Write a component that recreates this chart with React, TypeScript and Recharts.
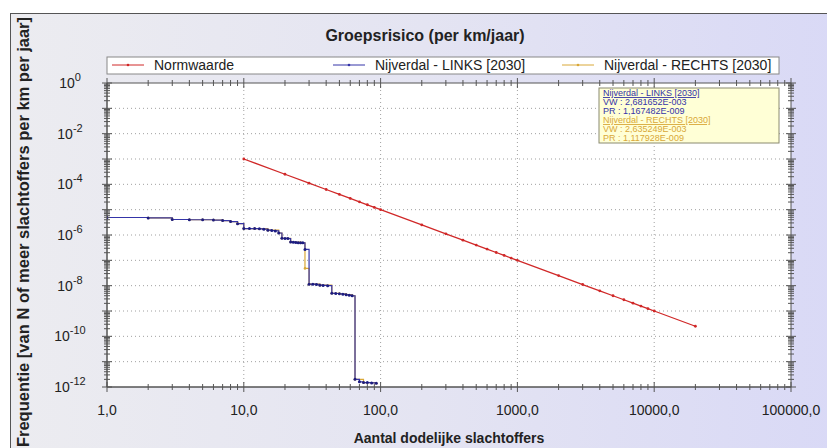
import { LineChart, Line, XAxis, YAxis, ReferenceArea, ReferenceLine } from "recharts";

const W = 827;
const H = 448;
const PLOT_TOP = 83;
const PLOT_RIGHT = 791;
const FONT = "'Liberation Sans', Arial, sans-serif";

const RED = "#d02828";
const BLUE = "#3434a8";
const YELLOW = "#d9a838";

// Normwaarde (aantal slachtoffers, frequentie)
const NORM_N = [10, 20, 30, 40, 50, 60, 70, 80, 90, 100, 200, 300, 400, 500, 600, 700, 800, 900, 1000, 2000, 3000, 4000, 5000, 6000, 7000, 8000, 9000, 10000, 20000];
const NORM_F = [1e-3, 2.5e-4, 1.11e-4, 6.25e-5, 4e-5, 2.78e-5, 2.04e-5, 1.56e-5, 1.23e-5, 1e-5, 2.5e-6, 1.11e-6, 6.25e-7, 4e-7, 2.78e-7, 2.04e-7, 1.56e-7, 1.23e-7, 1e-7, 2.5e-8, 1.11e-8, 6.25e-9, 4e-9, 2.78e-9, 2.04e-9, 1.56e-9, 1.23e-9, 1e-9, 2.5e-10];

// Nijverdal - LINKS [2030]
const LINKS_N = [1, 2, 3, 4, 5, 6, 7, 8, 9, 10, 11, 12, 13, 14, 15, 16, 17, 18, 19, 20, 21, 22, 23, 24, 25, 26, 27, 28, 30, 32, 34, 36, 38, 41, 44, 47, 50, 53, 56, 59, 62, 65, 70, 75, 80, 86, 93];
const LINKS_F = [4.9e-6, 4.7e-6, 4.1e-6, 4.0e-6, 4.0e-6, 3.9e-6, 3.7e-6, 3.4e-6, 2.8e-6, 1.8e-6, 1.8e-6, 1.8e-6, 1.75e-6, 1.7e-6, 1.55e-6, 1.5e-6, 1.45e-6, 1.2e-6, 7.4e-7, 7.3e-7, 7.2e-7, 5.3e-7, 5.2e-7, 5.1e-7, 5.0e-7, 4.9e-7, 4.9e-7, 2.7e-7, 1.15e-8, 1.15e-8, 1.12e-8, 1.05e-8, 1.02e-8, 1.0e-8, 5.0e-9, 4.9e-9, 4.8e-9, 4.6e-9, 4.4e-9, 4.2e-9, 4.0e-9, 2.0e-12, 1.6e-12, 1.5e-12, 1.5e-12, 1.45e-12, 1.4e-12];

// Nijverdal - RECHTS [2030]
const RECHTS_N = [1, 2, 3, 4, 5, 6, 7, 8, 9, 10, 12, 15, 18, 19, 22, 26, 28, 30, 36, 44, 50, 56, 62, 65, 75, 93];
const RECHTS_F = [4.9e-6, 4.7e-6, 4.1e-6, 4.0e-6, 4.0e-6, 3.9e-6, 3.7e-6, 3.4e-6, 2.8e-6, 1.8e-6, 1.8e-6, 1.55e-6, 1.2e-6, 7.4e-7, 5.3e-7, 4.9e-7, 4.8e-8, 1.15e-8, 1.05e-8, 5.0e-9, 4.8e-9, 4.4e-9, 4.0e-9, 2.0e-12, 1.5e-12, 1.4e-12];

const X_MAJOR = [1, 10, 100, 1000, 10000, 100000];
const X_LABELS = ["1,0", "10,0", "100,0", "1000,0", "10000,0", "100000,0"];
const Y_EXPONENTS = [0, -1, -2, -3, -4, -5, -6, -7, -8, -9, -10, -11, -12];

const normData = NORM_N.map((n, i) => ({ n, f: NORM_F[i] }));
const linksData = LINKS_N.map((n, i) => ({ n, f: LINKS_F[i] }));
const rechtsData = RECHTS_N.map((n, i) => ({ n, f: RECHTS_F[i] }));

const xTicks: number[] = [];
X_MAJOR.forEach((m, i) => {
  xTicks.push(m);
  if (i < X_MAJOR.length - 1) for (let k = 2; k < 10; k++) xTicks.push(m * k);
});
const yTicks: number[] = [];
Y_EXPONENTS.forEach((e, i) => {
  yTicks.push(Math.pow(10, e));
  if (i < Y_EXPONENTS.length - 1) for (let k = 2; k < 10; k++) yTicks.push(k * Math.pow(10, e - 1));
});

const isMajor = (v: number) => Math.abs(Math.log10(v) - Math.round(Math.log10(v))) < 1e-9;

function XTick(props: any) {
  const { x, y, payload } = props;
  const v = payload.value;
  const major = isMajor(v);
  const len = major ? 5 : 3;
  const idx = X_MAJOR.findIndex((m) => Math.abs(m - v) < 1e-9);
  return (
    <g>
      <line x1={x} x2={x} y1={y - len} y2={y + len} stroke="#555" />
      <line x1={x} x2={x} y1={PLOT_TOP - len} y2={PLOT_TOP + len} stroke="#555" />
      {idx >= 0 && (
        <text x={x} y={y + 28} textAnchor="middle" fontFamily={FONT} fontSize={14} fill="#222">
          {X_LABELS[idx]}
        </text>
      )}
    </g>
  );
}

function YTick(props: any) {
  const { x, y, payload } = props;
  const v = payload.value;
  const major = isMajor(v);
  const len = major ? 5 : 3;
  const e = Math.round(Math.log10(v));
  const labelled = major && e % 2 === 0;
  return (
    <g>
      <line x1={x - len} x2={x + len} y1={y} y2={y} stroke="#555" />
      <line x1={PLOT_RIGHT - len} x2={PLOT_RIGHT + len} y1={y} y2={y} stroke="#555" />
      {labelled && (
        <text x={x - 37} y={y + 5} textAnchor="middle" fontFamily={FONT} fontSize={14} fill="#222">
          10
          <tspan dy={-7} fontSize={11}>{String(e)}</tspan>
        </text>
      )}
    </g>
  );
}

function LegendItem({ x, color, label }: { x: number; color: string; label: string }) {
  return (
    <g>
      <line x1={x} x2={x + 32} y1={65} y2={65} stroke={color} strokeWidth={1} />
      <circle cx={x + 16} cy={65} r={1.3} fill={color} />
      <text x={x + 42} y={70} fontFamily={FONT} fontSize={14} fill="#222">{label}</text>
    </g>
  );
}

export default function App() {
  return (
    <div style={{ position: "absolute", left: 0, top: 0, width: W, height: H, overflow: "hidden", background: "#fff" }}>
      <div
        style={{
          position: "absolute",
          left: 10,
          top: 13,
          width: W,
          height: H,
          borderLeft: "1px solid #555",
          borderTop: "1px solid #555",
          background: "linear-gradient(to right, #ececf0 0%, #e4e4f2 50%, #d9d9f6 100%)",
        }}
      />
      <div style={{ position: "absolute", left: 0, top: 0 }}>
        <LineChart width={W} height={H} margin={{ top: PLOT_TOP, right: W - PLOT_RIGHT, bottom: 0, left: 0 }}>
          <XAxis
            dataKey="n"
            type="number"
            scale="log"
            domain={[1, 100000]}
            allowDataOverflow
            ticks={xTicks}
            interval={0}
            tickSize={0}
            tickMargin={0}
            tickLine={false}
            axisLine={{ stroke: "#555" }}
            tick={<XTick />}
            height={61}
          />
          <YAxis
            type="number"
            scale="log"
            domain={[1e-12, 1]}
            allowDataOverflow
            ticks={yTicks}
            interval={0}
            tickSize={0}
            tickMargin={0}
            tickLine={false}
            axisLine={{ stroke: "#555" }}
            tick={<YTick />}
            width={107}
          />
          <ReferenceArea x1={1} x2={100000} y1={1e-12} y2={1} fill="#fff" fillOpacity={1} stroke="#555" />
          {Y_EXPONENTS.slice(1, -1).map((e) => (
            <ReferenceLine key={"h" + e} y={Math.pow(10, e)} stroke="#a0a0a0" strokeDasharray="1 3" />
          ))}
          {X_MAJOR.slice(1, -1).map((m) => (
            <ReferenceLine key={"v" + m} x={m} stroke="#a0a0a0" strokeDasharray="1 3" />
          ))}
          <Line data={normData} dataKey="f" type="linear" stroke={RED} strokeWidth={1.3} dot={{ r: 1.4, fill: RED, stroke: RED, strokeWidth: 0 }} isAnimationActive={false} />
          <Line data={rechtsData} dataKey="f" type="stepAfter" stroke={YELLOW} strokeWidth={1.2} dot={{ r: 1.3, fill: YELLOW, stroke: YELLOW, strokeWidth: 0 }} isAnimationActive={false} />
          <Line data={linksData} dataKey="f" type="stepAfter" stroke={BLUE} strokeWidth={1.2} dot={{ r: 1.5, fill: "#1c1c80", stroke: "#1c1c80", strokeWidth: 0 }} isAnimationActive={false} />
        </LineChart>
      </div>
      <svg width={W} height={H} style={{ position: "absolute", left: 0, top: 0, pointerEvents: "none" }}>
        <text x={425} y={41} textAnchor="middle" fontFamily={FONT} fontSize={16} fontWeight="bold" fill="#222">
          Groepsrisico (per km/jaar)
        </text>
        <rect x={107} y={57} width={672} height={17} fill="#fff" stroke="#888" />
        <LegendItem x={112} color={RED} label="Normwaarde" />
        <LegendItem x={333} color={BLUE} label="Nijverdal - LINKS [2030]" />
        <LegendItem x={562} color={YELLOW} label="Nijverdal - RECHTS [2030]" />
        <text transform="translate(29, 17) rotate(-90)" textAnchor="end" fontFamily={FONT} fontSize={16.5} fontWeight="bold" fill="#222">
          Frequentie [van N of meer slachtoffers per km per jaar]
        </text>
        <text x={449} y={443} textAnchor="middle" fontFamily={FONT} fontSize={14} fontWeight="bold" fill="#222">
          Aantal dodelijke slachtoffers
        </text>
        <rect x={599} y={88} width={180} height={55} fill="#ffffd6" stroke="#8a8a70" />
        <g fontFamily={FONT} fontSize={9}>
          <text x={603} y={96} fill={BLUE} textDecoration="underline">Nijverdal - LINKS [2030]</text>
          <text x={603} y={105} fill={BLUE}>VW : 2,681652E-003</text>
          <text x={603} y={114} fill={BLUE}>PR : 1,167482E-009</text>
          <text x={603} y={123} fill={YELLOW} textDecoration="underline">Nijverdal - RECHTS [2030]</text>
          <text x={603} y={132} fill={YELLOW}>VW : 2,635249E-003</text>
          <text x={603} y={141} fill={YELLOW}>PR : 1,117928E-009</text>
        </g>
      </svg>
    </div>
  );
}
